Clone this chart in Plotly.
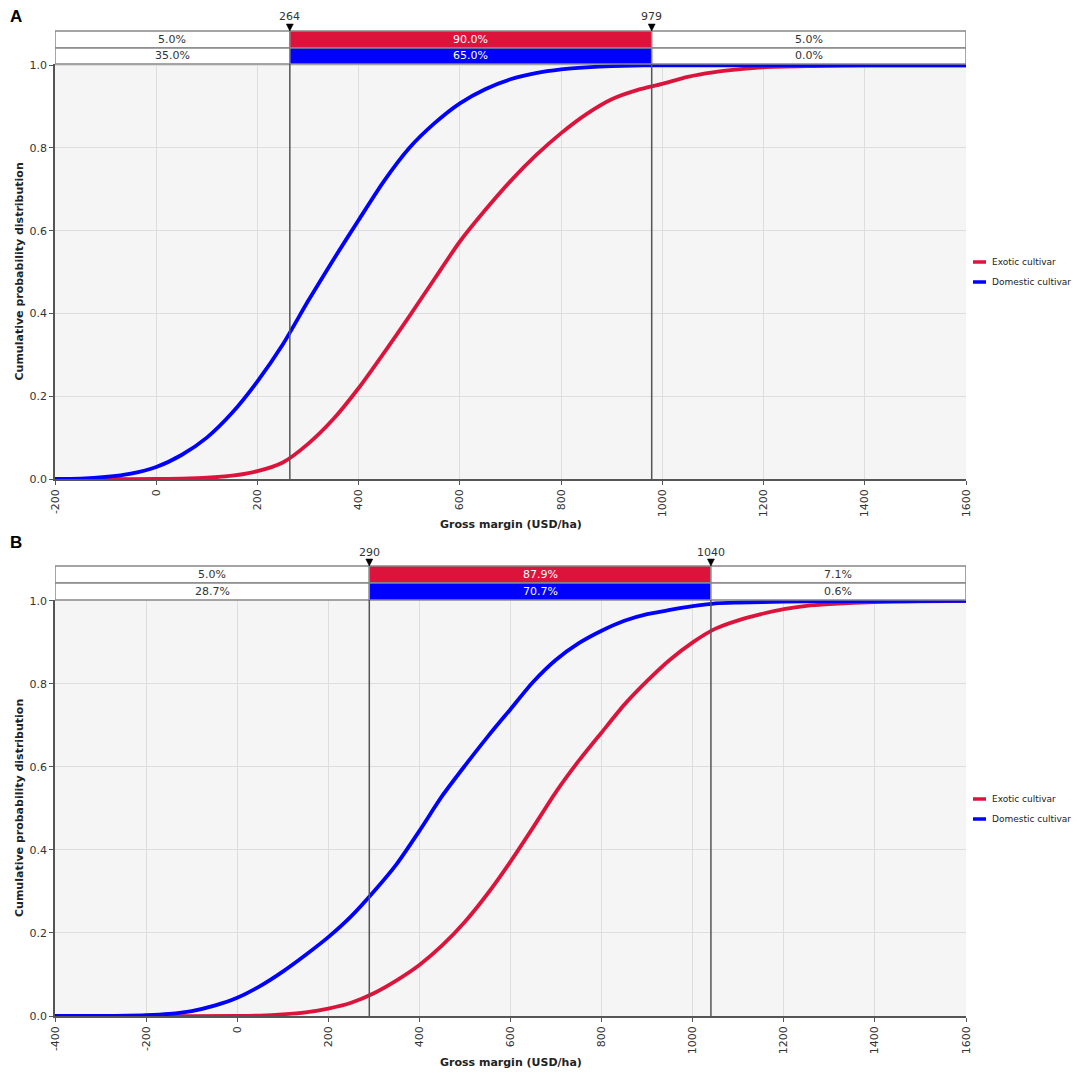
import plotly.graph_objects as go

# Figure size in pixels
W, H = 1084, 1077

# ---- Panel A data ----
a_dom_x = [-200, -150, -100, -50, 0, 50, 100, 150, 200, 250, 300, 350, 400, 450,
           500, 550, 600, 650, 700, 750, 800, 850, 900, 1000, 1600]
a_dom_y = [0.0, 0.001, 0.005, 0.013, 0.029, 0.058, 0.1, 0.16, 0.236, 0.325, 0.43, 0.53,
           0.626, 0.72, 0.8, 0.86, 0.908, 0.942, 0.966, 0.981, 0.99, 0.995, 0.998, 1.0, 1.0]
a_exo_x = [-200, -100, 0, 50, 100, 150, 200, 250, 300, 350, 400, 450, 500, 550, 600,
           650, 700, 750, 800, 850, 900, 950, 1000, 1050, 1100, 1150, 1200, 1300, 1400, 1600]
a_exo_y = [0.0, 0.0, 0.0, 0.001, 0.003, 0.008, 0.019, 0.04, 0.085, 0.145, 0.22, 0.305,
           0.393, 0.484, 0.574, 0.65, 0.72, 0.782, 0.836, 0.882, 0.918, 0.94, 0.955,
           0.972, 0.983, 0.99, 0.995, 0.998, 1.0, 1.0]
a_thresholds = [264, 979]
a_exo_pct = ["5.0%", "90.0%", "5.0%"]
a_dom_pct = ["35.0%", "65.0%", "0.0%"]
a_xrange = [-200, 1600]
a_xticks = [-200, 0, 200, 400, 600, 800, 1000, 1200, 1400, 1600]

# ---- Panel B data ----
b_dom_x = [-400, -300, -200, -150, -100, -50, 0, 50, 100, 150, 200, 250, 300, 350, 400,
           450, 500, 550, 600, 650, 700, 750, 800, 850, 900, 950, 1000, 1050, 1100,
           1200, 1300, 1600]
b_dom_y = [0.0, 0.0, 0.002, 0.005, 0.012, 0.025, 0.044, 0.072, 0.107, 0.147, 0.19, 0.24,
           0.3, 0.366, 0.446, 0.53, 0.603, 0.673, 0.739, 0.805, 0.858, 0.898, 0.928, 0.952,
           0.968, 0.978, 0.987, 0.994, 0.996, 0.998, 0.999, 1.0]
b_exo_x = [-400, -200, 0, 50, 100, 150, 200, 250, 300, 350, 400, 450, 500, 550, 600, 650,
           700, 750, 800, 850, 900, 950, 1000, 1050, 1100, 1150, 1200, 1250, 1300, 1400, 1600]
b_exo_y = [0.0, 0.0, 0.0, 0.001, 0.004, 0.009, 0.018, 0.032, 0.055, 0.086, 0.123, 0.17,
           0.227, 0.295, 0.372, 0.455, 0.54, 0.615, 0.683, 0.75, 0.807, 0.858, 0.9,
           0.933, 0.953, 0.968, 0.98, 0.988, 0.992, 0.997, 1.0]
b_thresholds = [290, 1040]
b_exo_pct = ["5.0%", "87.9%", "7.1%"]
b_dom_pct = ["28.7%", "70.7%", "0.6%"]
b_xrange = [-400, 1600]
b_xticks = [-400, -200, 0, 200, 400, 600, 800, 1000, 1200, 1400, 1600]

y_ticks = [0.0, 0.2, 0.4, 0.6, 0.8, 1.0]
series_names = ["Exotic cultivar", "Domestic cultivar"]
RED = "#dc143c"
BLUE = "#0000ff"
FONT = "DejaVu Sans"
TXT = "#333333"

# pixel layout of each panel
panels = [
    dict(sfx="", letter="A", exo=(a_exo_x, a_exo_y), dom=(a_dom_x, a_dom_y),
         thr=a_thresholds, exo_pct=a_exo_pct, dom_pct=a_dom_pct, xr=a_xrange, xt=a_xticks,
         top=64, bottom=479, ymax=1.003, b_top=31, b_mid=48, lab_y=17,
         leg_y=(262, 282), xt_y=524, let_y=17),
    dict(sfx="2", letter="B", exo=(b_exo_x, b_exo_y), dom=(b_dom_x, b_dom_y),
         thr=b_thresholds, exo_pct=b_exo_pct, dom_pct=b_dom_pct, xr=b_xrange, xt=b_xticks,
         top=600, bottom=1016, ymax=1.002, b_top=566, b_mid=583, lab_y=553,
         leg_y=(799, 819), xt_y=1062, let_y=542),
]
LEFT, RIGHT = 55, 966


def py(px):
    return 1 - px / H


def pxx(px):
    return px / W


def note(x, y, text, xref="paper", yref="paper", **kw):
    d = dict(x=x, y=y, xref=xref, yref=yref, text=text, showarrow=False,
             xanchor="center", yanchor="middle")
    d.update(kw)
    return d


fig = go.Figure()
shapes = []
annotations = []
layout = {}

for p in panels:
    s = p["sfx"]
    xa, ya = "x" + s, "y" + s
    for (xs, ys), col, nm in [(p["exo"], RED, series_names[0]), (p["dom"], BLUE, series_names[1])]:
        fig.add_trace(go.Scatter(x=xs, y=ys, mode="lines", name=nm, showlegend=False,
                                 line=dict(color=col, width=3.8, shape="spline", smoothing=0.7),
                                 xaxis=xa, yaxis=ya))

    axfont = dict(family=FONT, size=11, color=TXT)
    common = dict(showgrid=True, gridcolor="#dddddd", gridwidth=1, showline=True,
                  linecolor="#555555", linewidth=1.5, ticks="outside", ticklen=4,
                  tickcolor="#555555", zeroline=False, tickfont=axfont, fixedrange=True)
    layout["xaxis" + s] = dict(domain=[pxx(LEFT), pxx(RIGHT)], range=p["xr"],
                               tickvals=p["xt"], ticktext=[str(v) for v in p["xt"]],
                               tickangle=-90, anchor=ya, **common)
    layout["yaxis" + s] = dict(domain=[py(p["bottom"]), py(p["top"])], range=[0, p["ymax"]],
                               tickvals=y_ticks, tickformat=".1f", anchor=xa, **common)

    # banner rows above the plot
    edges = [p["xr"][0]] + p["thr"] + [p["xr"][1]]
    rows = [(p["b_top"], p["b_mid"], p["exo_pct"], RED),
            (p["b_mid"], p["top"], p["dom_pct"], BLUE)]
    for r_top, r_bot, labels, col in rows:
        for k in range(3):
            mid = k == 1
            shapes.append(dict(type="rect", xref=xa, yref="paper", x0=edges[k], x1=edges[k + 1],
                               y0=py(r_bot), y1=py(r_top), fillcolor=col if mid else "white",
                               line=dict(color="#888888", width=1.5), layer="above"))
            annotations.append(note((edges[k] + edges[k + 1]) / 2, py((r_top + r_bot) / 2),
                                    labels[k], xref=xa,
                                    font=dict(family=FONT, size=11,
                                              color="white" if mid else TXT)))

    # threshold lines, labels and the little down-pointing markers
    half_w = 3.5 * (p["xr"][1] - p["xr"][0]) / (RIGHT - LEFT)   # 3.5 px in data units
    for t in p["thr"]:
        shapes.append(dict(type="line", xref=xa, yref="paper", x0=t, x1=t,
                           y0=py(p["bottom"]), y1=py(p["top"]),
                           line=dict(color="#555555", width=1.5), layer="above"))
        annotations.append(note(t, py(p["lab_y"]), str(t), xref=xa,
                                font=dict(family=FONT, size=11, color=TXT)))
        tri = "M %f,%f L %f,%f L %f,%f Z" % (t - half_w, py(p["b_top"] - 7),
                                             t + half_w, py(p["b_top"] - 7),
                                             t, py(p["b_top"]))
        shapes.append(dict(type="path", xref=xa, yref="paper", path=tri,
                           fillcolor="black", line=dict(color="black", width=0.5),
                           layer="above"))

    # axis titles and panel letter
    annotations.append(note((pxx(LEFT) + pxx(RIGHT)) / 2, py(p["xt_y"]),
                            "<b>Gross margin (USD/ha)</b>",
                            font=dict(family=FONT, size=11, color="#222222")))
    annotations.append(note(pxx(19), py((p["top"] + p["bottom"]) / 2),
                            "<b>Cumulative probability distribution</b>", textangle=-90,
                            font=dict(family=FONT, size=11, color="#222222")))
    annotations.append(note(pxx(16), py(p["let_y"]), "<b>%s</b>" % p["letter"],
                            font=dict(family="Liberation Sans", size=17, color="black")))

    # legend drawn by hand (short swatches as in the original)
    for ly, col, nm in zip(p["leg_y"], [RED, BLUE], series_names):
        shapes.append(dict(type="line", xref="paper", yref="paper", x0=pxx(973), x1=pxx(986),
                           y0=py(ly), y1=py(ly), line=dict(color=col, width=3.5)))
        annotations.append(note(pxx(990), py(ly), nm, xanchor="left",
                                font=dict(family=FONT, size=9, color="#222222")))

fig.update_layout(
    width=W, height=H,
    margin=dict(l=0, r=0, t=0, b=0, autoexpand=False),
    paper_bgcolor="white",
    plot_bgcolor="#f5f5f5",
    showlegend=False,
    shapes=shapes,
    annotations=annotations,
    **layout,
)

# drop the browser's default body margin so the figure sits at the page corner
fig.write_html("out.html", config={"displayModeBar": False},
               post_script="document.body.style.margin='0';")
